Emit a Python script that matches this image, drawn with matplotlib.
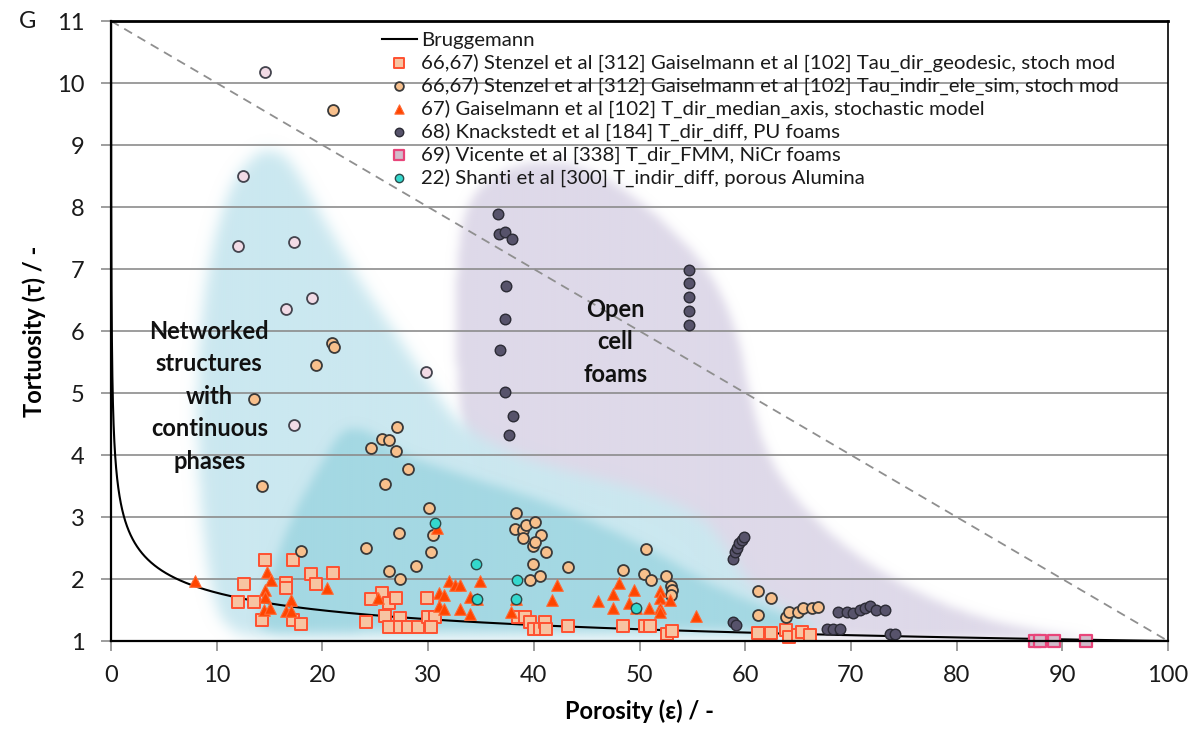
import numpy as np
import matplotlib
matplotlib.use("Agg")
import matplotlib.pyplot as plt
from matplotlib.path import Path
from matplotlib.colors import to_rgb

plt.rcParams['font.family'] = ['Lato', 'DejaVu Sans']

# ---------------- data (porosity in %, tortuosity) ----------------
# Stenzel / Gaiselmann, Tau_dir_geodesic (squares)
sq_por = [12.6, 12.0, 13.5, 14.6, 17.2, 16.6, 16.6, 18.9, 19.4, 21.0, 14.3, 17.2, 18.0,
          25.6, 24.6, 26.3, 27.0, 25.9, 27.3, 24.1, 26.3, 27.3, 28.1, 29.0, 29.9, 30.0,
          30.7, 30.3, 38.5, 39.2, 39.6, 40.0, 40.6, 41.1, 41.2, 43.2, 48.4, 50.5, 51.0,
          52.6, 53.1, 61.2, 62.4, 63.9, 64.1, 65.0, 65.4, 66.1]
sq_tau = [1.92, 1.63, 1.63, 2.31, 2.31, 1.94, 1.85, 2.08, 1.92, 2.10, 1.34, 1.34, 1.27,
          1.77, 1.67, 1.61, 1.70, 1.40, 1.37, 1.30, 1.22, 1.22, 1.22, 1.22, 1.69, 1.39,
          1.39, 1.22, 1.39, 1.39, 1.31, 1.20, 1.20, 1.31, 1.20, 1.24, 1.24, 1.24, 1.24,
          1.12, 1.16, 1.13, 1.13, 1.17, 1.06, 1.10, 1.15, 1.10]

# Stenzel / Gaiselmann, Tau_indir_ele_sim (circles)
ci_por = [21.0, 20.9, 21.1, 19.4, 13.5, 14.3, 27.1, 25.6, 26.3, 24.6, 27.0, 28.1, 25.9,
          30.1, 18.0, 24.1, 27.2, 30.5, 30.3, 26.3, 27.3, 28.9, 38.2, 39.0, 39.3, 40.1,
          40.7, 39.0, 39.9, 40.1, 41.2, 39.9, 39.6, 40.6, 38.3, 43.2, 50.6, 48.4, 50.4,
          51.1, 52.5, 53.0, 53.1, 53.0, 61.2, 62.4, 61.2, 63.9, 64.1, 65.0, 65.5, 66.3, 66.9]
ci_tau = [9.56, 5.80, 5.75, 5.45, 4.90, 3.50, 4.45, 4.26, 4.25, 4.12, 4.07, 3.77, 3.53,
          3.15, 2.45, 2.50, 2.75, 2.71, 2.43, 2.13, 2.00, 2.21, 2.80, 2.79, 2.87, 2.92,
          2.71, 2.66, 2.53, 2.59, 2.44, 2.24, 1.98, 2.05, 3.06, 2.20, 2.48, 2.15, 2.08,
          1.98, 2.05, 1.89, 1.82, 1.74, 1.80, 1.70, 1.42, 1.39, 1.47, 1.47, 1.54, 1.53, 1.55]
# same series, lighter fill
cp_por = [14.6, 12.5, 12.0, 17.3, 19.0, 16.6, 29.8, 17.3]
cp_tau = [10.17, 8.50, 7.37, 7.44, 6.54, 6.35, 5.34, 4.48]

# Gaiselmann, T_dir_median_axis (triangles)
tr_por = [7.9, 14.8, 15.1, 14.6, 14.6, 14.5, 15.0, 17.0, 16.6, 17.0, 20.4, 25.3, 32.0,
          32.5, 33.0, 34.9, 31.0, 31.5, 31.0, 31.5, 33.0, 34.0, 34.0, 37.8, 38.3, 34.6,
          30.8, 42.2, 41.7, 46.1, 47.5, 48.1, 47.5, 49.0, 49.5, 49.7, 50.9, 51.9, 51.9,
          51.9, 51.9, 52.9, 55.3]
tr_tau = [1.96, 2.12, 1.98, 1.82, 1.71, 1.50, 1.53, 1.66, 1.49, 1.49, 1.85, 1.70, 1.97,
          1.90, 1.90, 1.96, 1.78, 1.74, 1.56, 1.51, 1.51, 1.71, 1.43, 1.46, 1.68, 1.68,
          2.82, 1.90, 1.66, 1.65, 1.76, 1.93, 1.53, 1.62, 1.82, 1.54, 1.53, 1.80, 1.70,
          1.54, 1.46, 1.66, 1.40]

# Knackstedt, PU foams
kn_por = [36.6, 36.7, 37.3, 37.9, 37.4, 37.3, 36.8, 37.3, 38.0, 37.7,
          54.7, 54.7, 54.7, 54.7, 54.7,
          58.8, 59.0, 59.2, 59.4, 59.7, 59.9, 58.8, 59.1,
          68.8, 69.6, 70.2, 70.9, 71.3, 71.8, 72.4, 73.2, 67.7, 68.3, 69.0, 73.7, 74.2]
kn_tau = [7.88, 7.56, 7.60, 7.48, 6.73, 6.20, 5.70, 5.02, 4.63, 4.32,
          6.98, 6.77, 6.55, 6.32, 6.10,
          2.33, 2.44, 2.50, 2.58, 2.63, 2.68, 1.30, 1.26,
          1.46, 1.46, 1.45, 1.50, 1.53, 1.56, 1.50, 1.50, 1.19, 1.19, 1.19, 1.12, 1.12]

# Vicente, NiCr foams
vi_por = [87.4, 87.9, 89.2, 92.2]
vi_tau = [1.0, 1.0, 1.0, 1.0]

# Shanti, porous alumina
sh_por = [30.7, 34.5, 38.4, 34.6, 38.3, 49.7]
sh_tau = [2.90, 2.24, 1.98, 1.68, 1.68, 1.54]

bruggemann_exp = 0.25
diag_por = [0, 100]
diag_tau = [11, 1]

x_ticks = list(range(0, 101, 10))
y_ticks = list(range(1, 12))

# ---------------- region outlines (porosity, tortuosity) ----------------
foam_region = [(33.96, 3.76), (32.83, 4.89), (32.54, 6.18), (32.83, 7.47), (33.96, 8.19),
               (36.8, 8.60), (40.59, 8.76), (44.37, 8.68), (48.16, 8.35), (52.5, 7.75),
               (56.7, 6.98), (59.3, 6.02), (60.5, 4.89), (62.2, 3.92), (65.6, 3.11),
               (70.86, 2.31), (77.48, 1.66), (84.11, 1.26), (91.67, 1.05), (93.57, 1.0),
               (65.18, 1.0), (46.26, 1.66), (36.8, 2.95)]
network_region = [(13.15, 1.0), (10.5, 1.25), (9.5, 1.75), (8.9, 2.4), (8.23, 3.60),
                  (8.04, 4.89), (8.42, 6.18), (9.56, 7.47), (11.45, 8.44), (13.62, 8.89),
                  (15.23, 8.95), (16.93, 8.76), (18.83, 8.19), (21.19, 7.47), (24.03, 6.66),
                  (27.34, 5.85), (30.18, 5.13), (32.54, 4.56), (36.8, 4.08), (42.48, 3.76),
                  (50.05, 3.44), (55.72, 3.03), (58.09, 2.55), (59.98, 1.98), (62.82, 1.58),
                  (68.02, 1.15), (65.18, 1.02), (36.8, 1.0)]
core_region = [(13.62, 1.15), (14.29, 1.66), (15.52, 2.31), (17.41, 3.11), (19.77, 3.84),
               (21.67, 4.37), (23.08, 4.44), (24.98, 4.32), (27.34, 4.00), (33.96, 3.63),
               (40.59, 3.27), (46.26, 2.87), (51.94, 2.39), (56.67, 1.90), (62.35, 1.50),
               (66.6, 1.21), (65.66, 1.15), (51.0, 1.18), (32.07, 1.18), (17.88, 1.15)]


def smooth_closed(points, passes=4):
    pts = np.asarray(points, float)
    for _ in range(passes):
        nxt = np.roll(pts, -1, axis=0)
        out = np.empty((2 * len(pts), 2))
        out[0::2] = 0.75 * pts + 0.25 * nxt
        out[1::2] = 0.25 * pts + 0.75 * nxt
        pts = out
    return pts


def blur(img, sigma):
    r = int(3 * sigma)
    k = np.exp(-0.5 * (np.arange(-r, r + 1) / sigma) ** 2)
    k /= k.sum()
    pad = np.pad(img, r, mode='edge')
    tmp = np.apply_along_axis(lambda v: np.convolve(v, k, mode='valid'), 1, pad)
    return np.apply_along_axis(lambda v: np.convolve(v, k, mode='valid'), 0, tmp)


def region_image(outline, color, sigma):
    nx, ny = 530, 310
    gx = np.linspace(0, 100, nx)
    gy = np.linspace(1, 11, ny)
    X, Y = np.meshgrid(gx, gy)
    path = Path(smooth_closed(outline))
    inside = path.contains_points(np.column_stack([X.ravel(), Y.ravel()])).reshape(ny, nx)
    alpha = blur(inside.astype(float), sigma)
    rgba = np.zeros((ny, nx, 4))
    rgba[..., :3] = to_rgb(color)
    rgba[..., 3] = np.clip(alpha, 0, 1)
    return rgba


fig = plt.figure(figsize=(12.02, 7.29), dpi=100)
ax = fig.add_axes([111 / 1202, 1 - 641 / 729, 1057 / 1202, 620 / 729])

for outline, color, sig in [(foam_region, '#ded9e9', 2.5),
                            (network_region, '#cbe8f0', 3.5),
                            (core_region, '#a4d8e3', 2.5)]:
    ax.imshow(region_image(outline, color, sig), extent=(0, 100, 1, 11), origin='lower',
              aspect='auto', interpolation='bilinear', zorder=0.2)

# reference lines
eps = np.geomspace(1e-5, 1, 1500)
ax.plot(eps * 100, eps ** (-bruggemann_exp), color='black', lw=1.5, zorder=3,
        label='Bruggemann')
ax.plot(diag_por, diag_tau, color='#8f8f8f', lw=1.3, ls=(0, (5, 3.5)), zorder=2.5)

mk = dict(clip_on=False, zorder=4)
ax.scatter(sq_por, sq_tau, marker='s', s=66, facecolor='#f7c4a2', edgecolor='#ff5030',
           linewidths=1.4, label='66,67) Stenzel et al [312] Gaiselmann et al [102] Tau_dir_geodesic, stoch mod', **mk)
ax.scatter(ci_por, ci_tau, marker='o', s=62, facecolor='#f8c08c', edgecolor='#3a3a3a',
           linewidths=1.3, label='66,67) Stenzel et al [312] Gaiselmann et al [102] Tau_indir_ele_sim, stoch mod', **mk)
ax.scatter(cp_por, cp_tau, marker='o', s=62, facecolor='#f2dbe6', edgecolor='#44444e',
           linewidths=1.3, **mk)
ax.scatter(tr_por, tr_tau, marker='^', s=70, facecolor='#ff4500', edgecolor='#ff6a35',
           linewidths=0.8, label='67) Gaiselmann et al [102] T_dir_median_axis, stochastic model', **mk)
ax.scatter(kn_por, kn_tau, marker='o', s=58, facecolor='#57536b', edgecolor='#2b2b35',
           linewidths=1.0, label='68) Knackstedt et al [184] T_dir_diff, PU foams', **mk)
ax.scatter(vi_por, vi_tau, marker='s', s=70, facecolor='#d2bccb', edgecolor='#e8457a',
           linewidths=1.6, label='69) Vicente et al [338] T_dir_FMM, NiCr foams', **mk)
ax.scatter(sh_por, sh_tau, marker='o', s=56, facecolor='#34d8cd', edgecolor='#2c4a4a',
           linewidths=1.0, label='22) Shanti et al [300] T_indir_diff, porous Alumina', **mk)

ax.set_xlim(0, 100)
ax.set_ylim(1, 11)
ax.set_xticks(x_ticks)
ax.set_yticks(y_ticks)
ax.set_axisbelow(True)
ax.grid(axis='y', color='#8c8c8c', lw=1.2, zorder=1)
ax.grid(axis='x', visible=False)
ax.tick_params(axis='both', direction='out', length=7, width=1.2, color='#8c8c8c',
               labelsize=17, labelcolor='#1a1a1a')
ax.tick_params(axis='y', pad=12)
ax.tick_params(axis='x', pad=10)
for side, lw in [('left', 1.6), ('bottom', 1.6), ('top', 2.0), ('right', 1.2)]:
    ax.spines[side].set_color('black')
    ax.spines[side].set_linewidth(lw)
    ax.spines[side].set_zorder(5)

ax.set_xlabel('Porosity (ε) / -', fontsize=17, fontweight='bold', labelpad=10)
ax.set_ylabel('Tortuosity (τ) / -', fontsize=17, fontweight='bold', labelpad=8)

ax.text(9.3, 4.95, 'Networked\nstructures\nwith\ncontinuous\nphases', ha='center',
        va='center', fontsize=17, fontweight='bold', color='#111111', linespacing=1.5,
        zorder=6)
ax.text(47.7, 5.83, 'Open\ncell\nfoams', ha='center', va='center', fontsize=17,
        fontweight='bold', color='#111111', linespacing=1.5, zorder=6)

fig.text(28 / 1202, 1 - 22 / 729, 'G', ha='center', va='center', fontsize=17, color='#1a1a1a')

leg = ax.legend(loc='upper left', bbox_to_anchor=((382 - 111) / 1057, 0.983), frameon=False,
                fontsize=14.7, handlelength=1.7, handletextpad=0.2, labelspacing=0.23,
                borderaxespad=0, borderpad=0, markerscale=0.8)
for t in leg.get_texts():
    t.set_color('#1a1a1a')

fig.savefig('out.png', dpi=100)
